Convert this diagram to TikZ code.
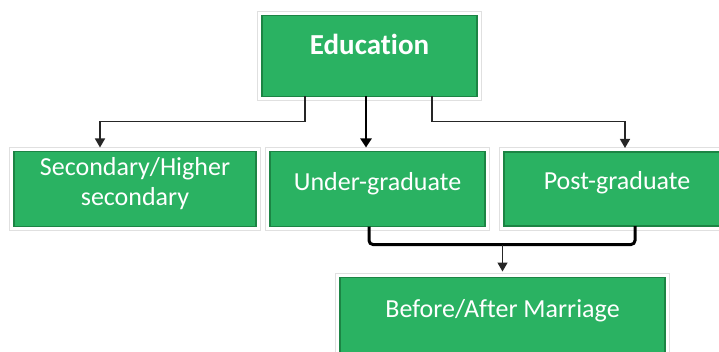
\documentclass[tikz,border=0pt]{standalone}
\usepackage{fontspec}
\setmainfont{Carlito}[Ligatures=NoCommon]
\usetikzlibrary{arrows.meta,positioning}
\definecolor{edugreen}{RGB}{42,178,98}
\definecolor{edudark}{RGB}{28,132,68}
\tikzset{
  box/.style={fill=edugreen, draw=edudark, line width=1.5pt, text=white,
    inner sep=0pt, outer sep=0pt, align=center,
    font=\fontsize{26}{30}\selectfont,
    preaction={draw=black!12, line width=9.5pt},
    preaction={draw=white, line width=7.5pt}},
  thin arrow/.style={draw=black!85, line width=1.4pt, -{Triangle[length=9pt,width=10pt]}},
  main arrow/.style={line width=2.4pt, -{Triangle[length=9pt,width=11pt]}},
  bracket/.style={line width=3pt, rounded corners=4pt},
}
\begin{document}
\begin{tikzpicture}[x=1pt,y=1pt]
\useasboundingbox (0,0) rectangle (719,351);
\clip (0,0) rectangle (719,351);
\fill[white] (0,0) rectangle (719,351);

\node[box, minimum width=215pt, text height=39pt, text depth=36pt] (UG) at (377.5,162) {Under-graduate};
\node[box, minimum width=242pt, text height=54pt, text depth=21pt, left=14pt of UG] (SEC) {Secondary/Higher\\secondary};
\node[box, minimum width=226pt, text height=38pt, text depth=36pt, right=19pt of UG] (PG) {Post-graduate};
\node[box, minimum width=215pt, text height=39pt, text depth=42pt, font=\fontsize{29}{33}\selectfont\bfseries,
  above=55pt of UG, xshift=-8pt] (EDU) {Education};
\node[box, minimum width=325pt, text height=40pt, text depth=50pt, below=51pt of UG, xshift=125pt] (BAM) {Before/After Marriage};

\draw[thin arrow] ([xshift=-64.5pt]EDU.south) -- ++(0,-25) -| ([xshift=-35pt,yshift=4pt]SEC.north);
\draw[main arrow] ([xshift=-3.5pt]EDU.south) -- ([xshift=-11.5pt,yshift=4pt]UG.north);
\draw[thin arrow] ([xshift=62.5pt]EDU.south) -- ++(0,-25) -| ([xshift=8pt,yshift=4pt]PG.north);
\draw[bracket] ([xshift=-8.5pt]UG.south) -- ++(0,-18) coordinate (join) -| ([xshift=18pt]PG.south);
\draw[thin arrow] (join -| BAM.north) -- ([yshift=6pt]BAM.north);
\end{tikzpicture}
\end{document}
